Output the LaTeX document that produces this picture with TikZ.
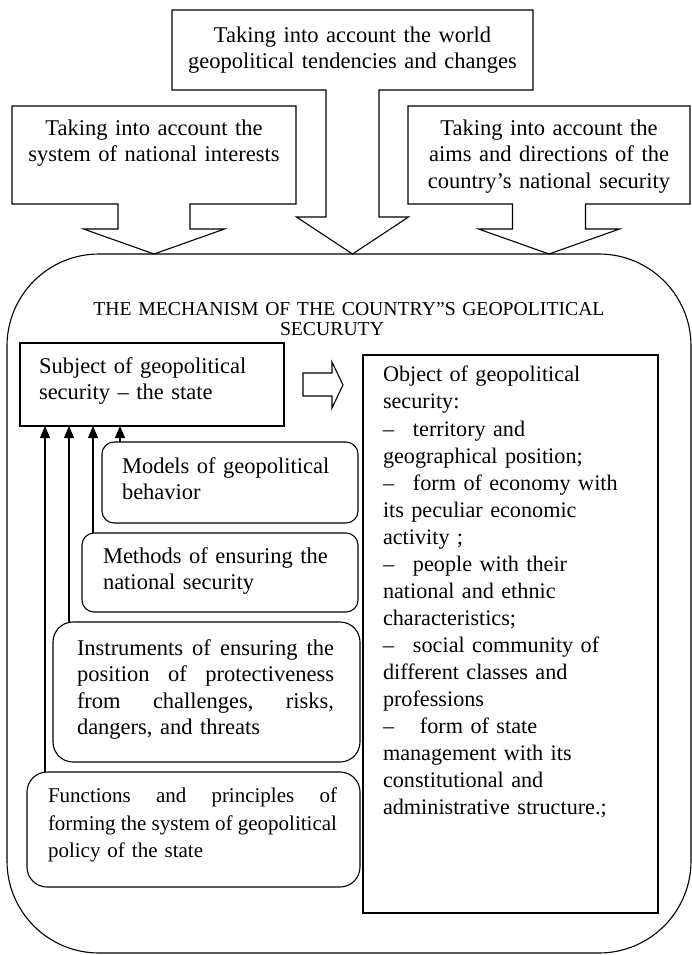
\documentclass[tikz,border=0pt]{standalone}
\usepackage{fontspec}
\setmainfont{Liberation Serif}
\usetikzlibrary{arrows.meta,calc}
\newcommand{\spreadline}[2]{\leavevmode\hbox to #1{#2}}
\begin{document}
\begin{tikzpicture}[x=1pt,y=1pt,
  every node/.style={inner sep=0pt,outer sep=0pt},
  frame/.style={draw,line width=1.1pt,line join=miter},
  plainbox/.style={frame,anchor=north west},
  roundbox/.style={frame,anchor=north west,rounded corners=#1},
  area/.style={anchor=north west},
  body/.style={font=\fontsize{22.5}{26.5}\selectfont},
  ctext/.style={body,anchor=north,align=center,text width=#1},
  ltext/.style={body,anchor=north west,align=left,text width=#1},
  uparrow/.style={line width=1.1pt,-{Triangle[length=12pt,width=10pt]}},
]
\useasboundingbox (0,0) rectangle (692,-955);

% outer container of the mechanism
\node[roundbox=92pt,minimum width=684,minimum height=699] (mech) at (7,-254) {};

% three callouts on top, each with a block arrow pointing down
\node[area,minimum width=361,minimum height=80] (world) at (172,-10) {};
\draw[frame] (world.south west) -- (world.north west) -- (world.north east) -- (world.south east)
  -- ($(world.south)+(26.5,0)$) -- ($(world.south)+(26.5,-127)$) -- ($(world.south)+(56,-127)$)
  -- (world.south |- mech.north)
  -- ($(world.south)+(-56,-127)$) -- ($(world.south)+(-26.5,-127)$) -- ($(world.south)+(-26.5,0)$) -- cycle;
\node[ctext=340] (worldt) at (352.5,-23.5)
  {\strut Taking into account the world\\ geopolitical tendencies and changes};

\node[area,minimum width=284,minimum height=98] (intr) at (12,-106) {};
\draw[frame] (intr.south west) -- (intr.north west) -- (intr.north east) -- (intr.south east)
  -- ($(intr.south)+(36,0)$) -- ($(intr.south)+(36,-25)$) -- ($(intr.south)+(70.5,-25)$)
  -- (intr.south |- mech.north)
  -- ($(intr.south)+(-70.5,-25)$) -- ($(intr.south)+(-36,-25)$) -- ($(intr.south)+(-36,0)$) -- cycle;
\node[ctext=280] (intrt) at (154,-116.5)
  {\strut Taking into account the\\ system of national interests};

\node[area,minimum width=282,minimum height=98] (aims) at (408,-106) {};
\draw[frame] (aims.south west) -- (aims.north west) -- (aims.north east) -- (aims.south east)
  -- ($(aims.south)+(36.5,0)$) -- ($(aims.south)+(36.5,-25)$) -- ($(aims.south)+(70.5,-25)$)
  -- (aims.south |- mech.north)
  -- ($(aims.south)+(-70.5,-25)$) -- ($(aims.south)+(-36.5,-25)$) -- ($(aims.south)+(-36.5,0)$) -- cycle;
\node[ctext=280] (aimst) at (549,-116.5)
  {\strut Taking into account the\\ aims and directions of the\\ country’s national security};

% heading
\node[ctext=640,font=\fontsize{19.7}{20}\selectfont] (title) at (349,-301.5)
  {\strut THE MECHANISM OF THE COUNTRY”S GEOPOLITICAL\\ SECURUTY\hspace*{34pt}\null};

% subject of security
\node[plainbox,minimum width=264,minimum height=83] (subj) at (20,-343) {};
\node[ltext=240] (subjt) at (39,-354.5)
  {\strut Subject of geopolitical\\ security – the state};

% hollow block arrow from subject to object
\draw[frame] (303,-373) -- (332,-373) -- (332,-362) -- (343,-385) -- (332,-408) -- (332,-396) -- (303,-396) -- cycle;

% object of security
\node[plainbox,minimum width=295,minimum height=558] (obj) at (363,-355) {};
\node[ltext=270,font=\fontsize{22.2}{27.05}\selectfont] (objt) at (383,-363)
  {\strut Object of geopolitical\\
   security:\\
   \makebox[30pt][l]{–}territory and\\
   geographical position;\\
   \makebox[30pt][l]{–}form of economy with\\
   its peculiar economic\\
   activity ;\\
   \makebox[30pt][l]{–}people with their\\
   national and ethnic\\
   characteristics;\\
   \makebox[30pt][l]{–}social community of\\
   different classes and\\
   professions\\
   \makebox[37pt][l]{–}form of state\\
   management with its\\
   constitutional and\\
   administrative structure.;};

% supporting components
\node[roundbox=12pt,minimum width=256,minimum height=81] (mod) at (102,-442) {};
\node[ltext=230] (modt) at (122,-454.5)
  {\strut Models of geopolitical\\ behavior};

\node[roundbox=12pt,minimum width=276,minimum height=79] (meth) at (82,-533) {};
\node[ltext=250] (metht) at (103,-544.5)
  {\strut Methods of ensuring the\\ national security};

\node[roundbox=20pt,minimum width=307,minimum height=140] (ins) at (53,-622) {};
\node[ltext=260] (inst) at (77,-636.5)
  {\strut\spreadline{257pt}{Instruments\hfill of\hfill ensuring\hfill the}\\
   \spreadline{257pt}{position\hfill of\hfill protectiveness}\\
   \spreadline{257pt}{from\hfill challenges,\hfill risks,}\\
   dangers, and threats};

\node[roundbox=20pt,minimum width=333,minimum height=115] (fun) at (27,-772) {};
\node[ltext=292,font=\fontsize{21}{27.5}\selectfont] (funt) at (48,-783.7)
  {\strut\spreadline{289pt}{Functions\hfill and\hfill principles\hfill of}\\
   \spreadline{289pt}{forming\hfill the\hfill system\hfill of\hfill geopolitical}\\
   policy of the state};

% arrows feeding the subject
\coordinate (a1) at ([xshift=18]fun.north west);
\coordinate (a2) at ([xshift=16]ins.north west);
\coordinate (a3) at ([xshift=11]meth.north west);
\coordinate (a4) at ([xshift=18]mod.north west);
\draw[uparrow] (a1) -- (a1 |- subj.south);
\draw[uparrow] (a2) -- (a2 |- subj.south);
\draw[uparrow] (a3) -- (a3 |- subj.south);
\draw[uparrow] (a4) -- (a4 |- subj.south);
\end{tikzpicture}
\end{document}
